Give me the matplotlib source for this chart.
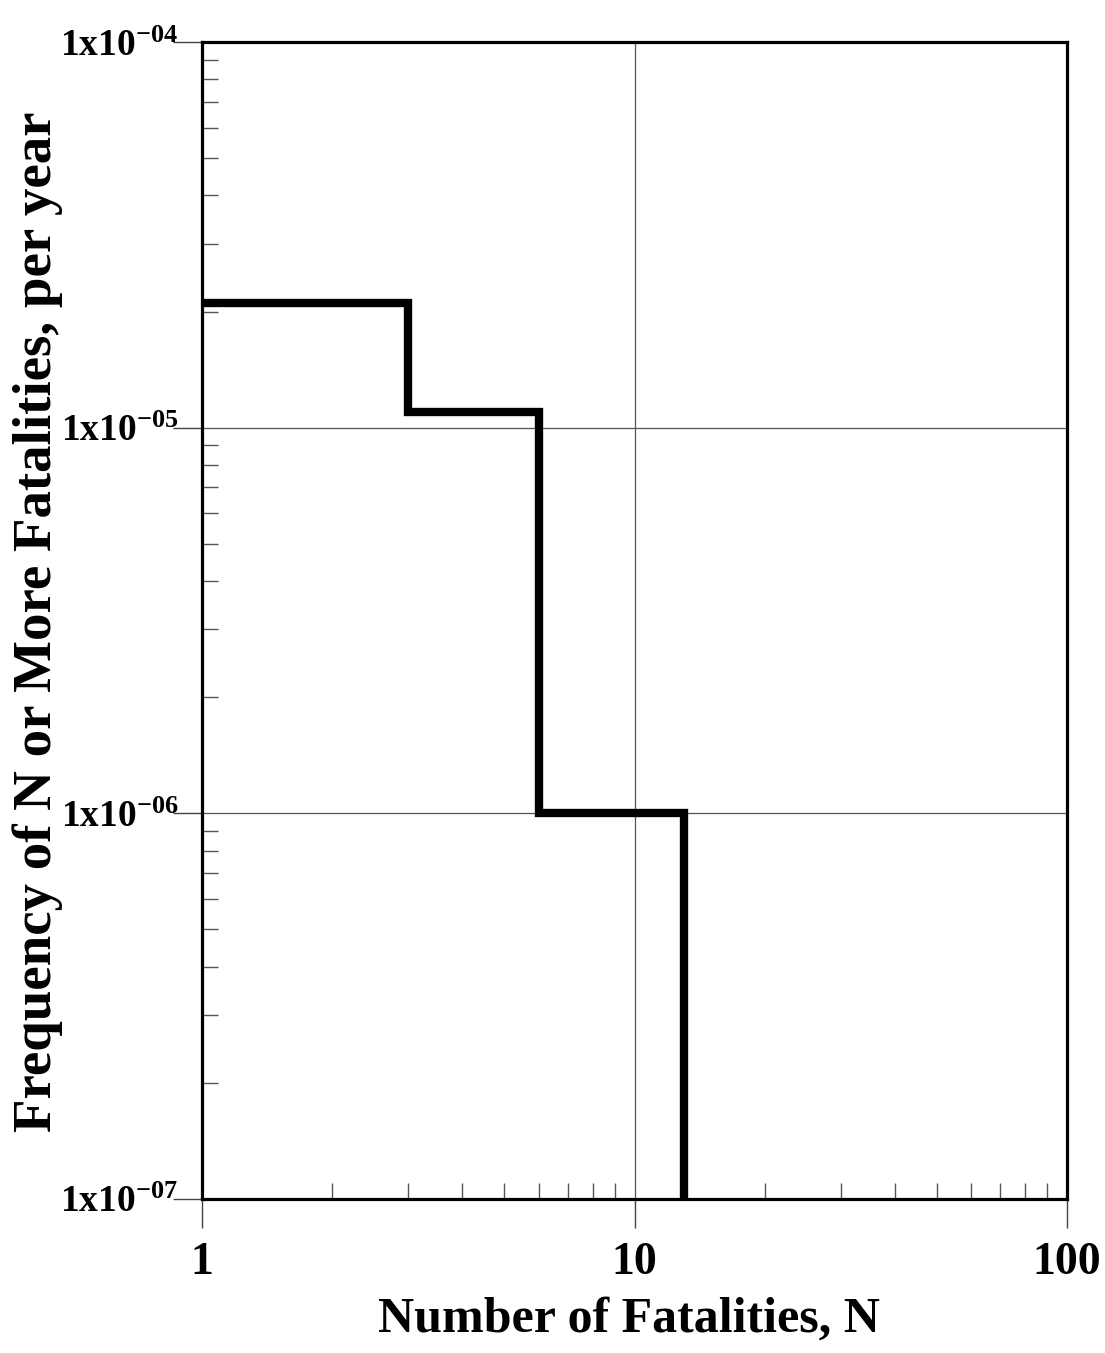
import matplotlib
matplotlib.use("Agg")
import matplotlib.pyplot as plt
from matplotlib.ticker import LogLocator, FixedLocator, NullFormatter

# F-N curve data (step, post)
n_fatalities = [1, 3, 6, 13]
frequency = [2.1e-5, 1.1e-5, 1.0e-6, 1.0e-7]

x_ticks = [1, 10, 100]
x_tick_labels = ["1", "10", "100"]
y_ticks = [1e-7, 1e-6, 1e-5, 1e-4]
y_tick_labels = [r"$\mathregular{1x10^{-07}}$", r"$\mathregular{1x10^{-06}}$",
                 r"$\mathregular{1x10^{-05}}$", r"$\mathregular{1x10^{-04}}$"]

plt.rcParams["font.family"] = ["Liberation Serif", "DejaVu Serif"]
plt.rcParams["font.weight"] = "bold"
plt.rcParams["mathtext.fontset"] = "custom"
plt.rcParams["mathtext.rm"] = "Liberation Serif:bold"
plt.rcParams["mathtext.default"] = "regular"

fig = plt.figure(figsize=(11.05, 13.53), dpi=100)
ax = fig.add_axes([202 / 1105, 154 / 1353, 865 / 1105, 1157 / 1353])

ax.step(n_fatalities, frequency, where="post", color="black", lw=6,
        solid_joinstyle="miter", zorder=3)

ax.set_xscale("log")
ax.set_yscale("log")
ax.set_xlim(1, 100)
ax.set_ylim(1e-7, 1e-4)

ax.xaxis.set_major_locator(FixedLocator(x_ticks))
ax.set_xticklabels(x_tick_labels)
ax.yaxis.set_major_locator(FixedLocator(y_ticks))
ax.set_yticklabels(y_tick_labels)
ax.xaxis.set_minor_locator(LogLocator(base=10, subs=range(2, 10)))
ax.yaxis.set_minor_locator(LogLocator(base=10, subs=range(2, 10)))
ax.xaxis.set_minor_formatter(NullFormatter())
ax.yaxis.set_minor_formatter(NullFormatter())

ax.tick_params(which="major", direction="out", length=21, width=1,
               color="#444444")
ax.tick_params(axis="x", which="major", pad=10, labelsize=33)
ax.tick_params(axis="y", which="major", pad=-4, labelsize=27)
ax.tick_params(which="minor", direction="in", length=11.5, width=1,
               color="#555555")

ax.grid(which="major", color="#555555", lw=0.9)
ax.set_axisbelow(True)

for s in ax.spines.values():
    s.set_linewidth(2.3)
    s.set_color("black")

ax.set_xlabel("Number of Fatalities, N", fontsize=36, fontweight="bold",
              va="center")
ax.xaxis.set_label_coords(0.494, -0.104)
ax.set_ylabel("Frequency of N or More Fatalities, per year", fontsize=39.5,
              fontweight="bold", va="center")
ax.yaxis.set_label_coords(-0.19, 0.499)

fig.savefig("out.png", dpi=100)
